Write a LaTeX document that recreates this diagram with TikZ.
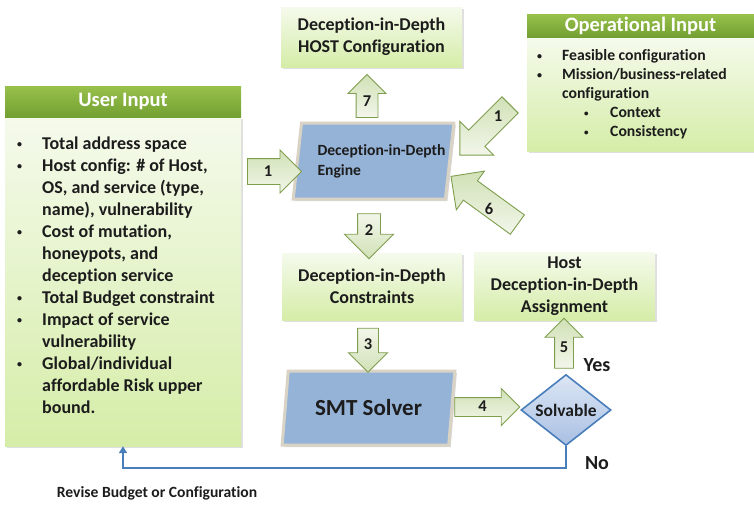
\documentclass[tikz,border=0pt]{standalone}
\usepackage{fontspec}
\setmainfont{Carlito}[Ligatures=NoCommon]
\usetikzlibrary{arrows.meta,positioning,shapes.geometric,shapes.arrows,shadows}

\definecolor{dxHead}{HTML}{98C14B}
\definecolor{dxHeadDark}{HTML}{73A032}
\definecolor{dxLight}{HTML}{F5FAEC}
\definecolor{dxPale}{HTML}{D5EDA8}
\definecolor{dxEngine}{HTML}{95B3D7}
\definecolor{dxRim}{HTML}{D9D3C5}
\definecolor{dxBlue}{HTML}{4A7EBB}
\definecolor{dxDiaTop}{HTML}{DCE6F4}
\definecolor{dxDiaBot}{HTML}{A9C0E3}
\definecolor{dxArrow}{HTML}{7E9E4E}
\definecolor{dxTail}{HTML}{F2F6EA}
\definecolor{dxTip}{HTML}{D1E1B6}
\definecolor{dxText}{HTML}{1C1C1C}

\tikzset{
    % green panels and their title bars
    panel/.style={rectangle, top color=dxLight, bottom color=dxPale, inner sep=0pt,
        drop shadow={shadow xshift=2pt, shadow yshift=-2pt, opacity=0.25}},
    header/.style={rectangle, top color=dxHead, bottom color=dxHeadDark, inner sep=0pt,
        text=white, font=\fontsize{20.5}{24}\selectfont\bfseries},
    stepbox/.style={panel, align=center, font=\fontsize{18}{22}\selectfont\bfseries},
    % numbered block arrows (shaft from inner sep, head from head extend)
    barrow/.style={single arrow, draw=dxArrow, line width=0.9pt, top color=dxTip, bottom color=dxTail,
        single arrow tip angle=90, text width=11pt, text height=10pt, text depth=1pt, align=center,
        font=\fontsize{16.5}{18}\selectfont\bfseries},
    steplabel/.style={inner sep=0pt, font=\fontsize{16.5}{18}\selectfont\bfseries},
    feedback/.style={-{Triangle[width=8pt,length=7pt]}, draw=dxBlue, line width=2.4pt}
}

\newcommand{\bul}{\makebox[25pt][l]{\raisebox{1.5pt}{\fontsize{10}{10}\selectfont\textbullet}}}
\newcommand{\sbul}{\makebox[26pt][l]{\raisebox{1.5pt}{\fontsize{9}{9}\selectfont\textbullet}}}

\begin{document}
\begin{tikzpicture}[
    x=1pt, y=-1pt,
    font=\bfseries, text=dxText,
    engine/.style={trapezium, trapezium left angle=76, trapezium right angle=104, trapezium stretches=true,
        fill=dxEngine, draw=dxRim, line width=3pt, inner sep=0pt,
        drop shadow={shadow xshift=2pt, shadow yshift=-2pt, opacity=0.3}},
    decision/.style={diamond, draw=dxBlue, line width=1.6pt, top color=dxDiaTop, bottom color=dxDiaBot,
        aspect=1.27, inner sep=0pt, minimum width=90, minimum height=71,
        font=\fontsize{17.5}{19}\selectfont\bfseries}
]
    \useasboundingbox (0,0) rectangle (754,506);

    % user input panel
    \node[panel, minimum width=236, minimum height=329] (ubody) at (123,281.5) {};
    \node[header, minimum width=236, minimum height=31] (uhead) at (123,101.5) {User Input};
    \node[anchor=north west, inner sep=0pt, align=left, font=\fontsize{18}{22}\selectfont\bfseries] (utext) at (17,136.5) {
        \bul Total address space\\
        \bul Host config: \# of Host,\\
        \hspace*{25pt}OS, and service (type,\\
        \hspace*{25pt}name), vulnerability\\
        \bul Cost of mutation,\\
        \hspace*{25pt}honeypots, and\\
        \hspace*{25pt}deception service\\
        \bul Total Budget constraint\\
        \bul Impact of service\\
        \hspace*{25pt}vulnerability\\
        \bul Global/individual\\
        \hspace*{25pt}affordable Risk upper\\
        \hspace*{25pt}bound.};

    % operational input panel
    \node[panel, minimum width=227, minimum height=114] (obody) at (640.5,94) {};
    \node[header, minimum width=227, minimum height=23] (ohead) at (640.5,25.5) {Operational Input};
    \node[anchor=north west, inner sep=0pt, align=left, font=\fontsize{15.7}{19}\selectfont\bfseries] (otext) at (537,49.5) {
        \bul Feasible configuration\\
        \bul Mission/business-related\\
        \hspace*{25pt}configuration\\
        \hspace*{47pt}\sbul Context\\
        \hspace*{47pt}\sbul Consistency};

    % processing chain
    \node[stepbox, minimum width=181, minimum height=60] (hostcfg) at (371.5,37) {Deception-in-Depth\\HOST Configuration};
    \node[engine, minimum width=157, minimum height=76, align=left, font=\fontsize{15.6}{20}\selectfont\bfseries] (engine) at (373.5,161)
        {\hspace*{16pt}Deception-in-Depth\\\hspace*{16pt}Engine};
    \node[stepbox, minimum width=180, minimum height=67] (constr) at (372,286.5) {Deception-in-Depth\\Constraints};
    \node[engine, minimum width=173, minimum height=74, font=\fontsize{23}{26}\selectfont\bfseries] (smt) at (368.5,408) {SMT Solver};
    \node[decision] (solv) at (566,410) {Solvable};
    \node[stepbox, minimum width=181, minimum height=68] (assign) at (564.5,286) {Host\\Deception-in-Depth\\Assignment};

    % numbered steps
    \node[barrow, inner sep=7, single arrow head extend=8.5, minimum height=54] (s1a) at (268,171.5) {1};
    \node[barrow, rotate=225, inner sep=5.5, single arrow head extend=12.5, minimum height=71] (s1b) at (489,126) {};
    \node[steplabel] (l1b) at (498,116) {1};
    \node[barrow, shape border rotate=270, shading angle=180, inner sep=5.5, single arrow head extend=13, minimum height=45] (s2) at (369,230.5) {2};
    \node[barrow, shape border rotate=270, shading angle=180, inner sep=4.5, single arrow head extend=9, minimum height=44] (s3) at (368,345) {3};
    \node[barrow, inner sep=3.5, single arrow head extend=9, minimum height=65] (s4) at (482.5,407) {4};
    \node[barrow, shape border rotate=90, shading angle=0, inner sep=3.5, single arrow head extend=9.5, minimum height=50] (s5) at (564,348) {5};
    \node[barrow, rotate=144, inner sep=6, single arrow head extend=12, minimum height=82] (s6) at (489,204) {};
    \node[steplabel] (l6) at (489,209) {6};
    \node[barrow, shape border rotate=90, shading angle=0, inner sep=5, single arrow head extend=8, minimum height=43] (s7) at (367,101.5) {7};

    % outcome labels
    \node[font=\fontsize{20}{22}\selectfont\bfseries] (yes) at (597,365) {Yes};
    \node[font=\fontsize{20}{22}\selectfont\bfseries] (no) at (597,463) {No};

    % unsolvable: back to the user
    \coordinate (turn) at (566,468);
    \draw[feedback] (solv.south) -- (turn) -| (ubody.south);
    \node[font=\fontsize{15.6}{17}\selectfont\bfseries] (revise) at (157,493) {Revise Budget or Configuration};
\end{tikzpicture}
\end{document}
